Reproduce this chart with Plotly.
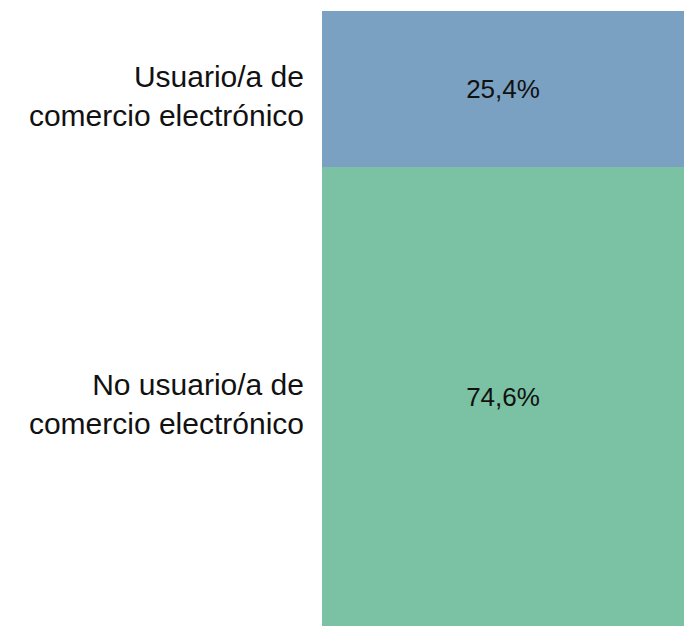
import plotly.graph_objects as go

# share of population, %
categories = ["No usuario/a de<br>comercio electrónico", "Usuario/a de<br>comercio electrónico"]
values = [74.6, 25.4]
colors = ["#7bc2a5", "#7aa1c2"]

fig = go.Figure()
for cat, val, col in zip(categories, values, colors):
    fig.add_trace(go.Bar(
        x=[0], y=[val], name=cat, width=1,
        marker=dict(color=col, line=dict(width=0)),
        text=[val], texttemplate="%{y:.1f}%",
        textposition="inside", insidetextanchor="middle",
        textfont=dict(size=26, color="#111111"),
    ))

# label positions at the middle of each stacked segment
mids = []
base = 0
for v in values:
    mids.append(base + v / 2)
    base += v

fig.update_layout(
    barmode="stack",
    separators=",.",
    width=684, height=627,
    margin=dict(l=322, r=0, t=11, b=1),
    paper_bgcolor="white", plot_bgcolor="white",
    showlegend=False,
    font=dict(family="Liberation Sans, Arial, sans-serif", color="#111111"),
    xaxis=dict(range=[-0.5, 0.5], visible=False, fixedrange=True),
    yaxis=dict(
        range=[0, 100], showgrid=False, zeroline=False, showline=False,
        tickmode="array", tickvals=mids, ticktext=categories,
        tickfont=dict(size=30, color="#111111"),
        ticks="", ticklabelstandoff=17, ticklabelshift=7,
    ),
)

fig.write_html("out.html", config={"displayModeBar": False},
               post_script="document.body.style.margin='0';")
